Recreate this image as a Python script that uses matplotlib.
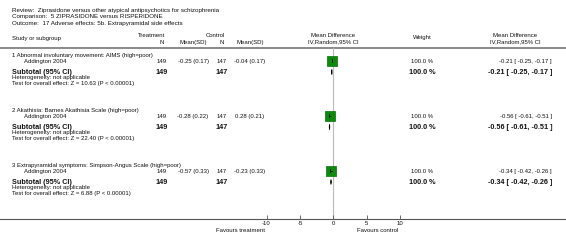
import matplotlib
matplotlib.use('Agg')
import matplotlib.pyplot as plt
from matplotlib.patches import Polygon

plt.rcParams['font.family'] = ['Liberation Sans', 'DejaVu Sans']

# data
review = "Review:  Ziprasidone versus other atypical antipsychotics for schizophrenia"
comparison = "Comparison:  5 ZIPRASIDONE versus RISPERIDONE"
outcome = "Outcome:  17 Adverse effects: 5b. Extrapyramidal side effects"

groups = ["1 Abnormal involuntary movement: AIMS (high=poor)",
          "2 Akathisia: Barnes Akathisia Scale (high=poor)",
          "3 Extrapyramidal symptoms: Simpson-Angus Scale (high=poor)"]
study = "Addington 2004"
trt_n = [149, 149, 149]
trt_mean = [-0.25, -0.28, -0.57]
trt_sd = [0.17, 0.22, 0.33]
ctl_n = [147, 147, 147]
ctl_mean = [-0.04, 0.28, -0.23]
ctl_sd = [0.17, 0.21, 0.33]
md = [-0.21, -0.56, -0.34]
md_lo = [-0.25, -0.61, -0.42]
md_hi = [-0.17, -0.51, -0.26]
weight = [100.0, 100.0, 100.0]
z_val = [10.63, 22.40, 6.88]
xticks = [-10, -5, 0, 5, 10]

W, H = 566, 249
fig = plt.figure(figsize=(W / 100, H / 100), dpi=100)
ax = fig.add_axes([0, 0, 1, 1])
ax.set_xlim(0, W)
ax.set_ylim(H, 0)
ax.axis('off')

fs = 4.3
fsb = 5.2
col = '#111111'

ax.text(12, 10, review, fontsize=4.5, va='center', color=col)
ax.text(12, 16.5, comparison, fontsize=4.5, va='center', color=col)
ax.text(12, 23, outcome, fontsize=4.5, va='center', color=col)

# header
x_tn, x_tm, x_cn, x_cm = 162, 193, 222, 250
x_w, x_ci = 422, 552
ax.text(12, 38, "Study or subgroup", fontsize=fs, va='center', color=col)
ax.text(x_tn + 3, 35, "Treatment", fontsize=fs, va='center', ha='right', color=col)
ax.text(x_tn, 42, "N", fontsize=fs, va='center', ha='center', color=col)
ax.text(x_tm, 42, "Mean(SD)", fontsize=fs, va='center', ha='center', color=col)
ax.text(x_cn + 3, 35, "Control", fontsize=fs, va='center', ha='right', color=col)
ax.text(x_cn, 42, "N", fontsize=fs, va='center', ha='center', color=col)
ax.text(x_cm, 42, "Mean(SD)", fontsize=fs, va='center', ha='center', color=col)
ax.text(333, 35, "Mean Difference", fontsize=fs, va='center', ha='center', color=col)
ax.text(333, 42, "IV,Random,95% CI", fontsize=fs, va='center', ha='center', color=col)
ax.text(x_w, 37, "Weight", fontsize=fs, va='center', ha='center', color=col)
ax.text(515, 35, "Mean Difference", fontsize=fs, va='center', ha='center', color=col)
ax.text(515, 42, "IV,Random,95% CI", fontsize=fs, va='center', ha='center', color=col)
ax.plot([0, W], [47.5, 47.5], color='#777777', lw=1.2)
ax.plot([0, W], [219, 219], color='#555555', lw=0.8)

# forest axes: -10..10 maps to px 266.5..400
y_top, y_bot = 48, 219
fx = fig.add_axes([266.5 / W, (H - y_bot) / H, 133.5 / W, (y_bot - y_top) / H])
fx.set_xlim(-10, 10)
fx.set_ylim(y_bot, y_top)
fx.patch.set_visible(False)
for s in fx.spines.values():
    s.set_visible(False)
fx.set_yticks([])
fx.set_xticks(xticks)
fx.set_xticklabels([str(t) for t in xticks])
fx.tick_params(axis='x', direction='in', length=3, width=0.6, color='#555555',
               labelsize=4.3, pad=1.5, labelcolor=col)
fx.axvline(0, color='#bbbbbb', lw=0.8, zorder=0)

g0 = 55
step = 55
for i in range(3):
    yg = g0 + i * step
    ys, ysub, yhet, ytest = yg + 6, yg + 17, yg + 22.5, yg + 28
    ax.text(12, yg, groups[i], fontsize=fs, va='center', color=col)
    ax.text(24, ys, study, fontsize=fs, va='center', color=col)
    ax.text(x_tn, ys, str(trt_n[i]), fontsize=fs, va='center', ha='center', color=col)
    ax.text(x_tm, ys, f"{trt_mean[i]:.2f} ({trt_sd[i]:.2f})", fontsize=fs, va='center', ha='center', color=col)
    ax.text(x_cn, ys, str(ctl_n[i]), fontsize=fs, va='center', ha='center', color=col)
    ax.text(x_cm, ys, f"{ctl_mean[i]:.2f} ({ctl_sd[i]:.2f})", fontsize=fs, va='center', ha='center', color=col)
    ax.text(x_w, ys, f"{weight[i]:.1f} %", fontsize=fs, va='center', ha='center', color=col)
    ax.text(x_ci, ys, f"{md[i]:.2f} [ {md_lo[i]:.2f}, {md_hi[i]:.2f} ]", fontsize=fs, va='center', ha='right', color=col)

    ax.text(12, ysub, "Subtotal (95% CI)", fontsize=fsb, va='center', fontweight='bold', color=col)
    ax.text(x_tn, ysub, str(trt_n[i]), fontsize=fsb, va='center', ha='center', fontweight='bold', color=col)
    ax.text(x_cn, ysub, str(ctl_n[i]), fontsize=fsb, va='center', ha='center', fontweight='bold', color=col)
    ax.text(x_w, ysub, f"{weight[i]:.1f} %", fontsize=fsb, va='center', ha='center', fontweight='bold', color=col)
    ax.text(x_ci, ysub, f"{md[i]:.2f} [ {md_lo[i]:.2f}, {md_hi[i]:.2f} ]", fontsize=fsb, va='center', ha='right', fontweight='bold', color=col)
    ax.text(12, yhet, "Heterogeneity: not applicable", fontsize=fs, va='center', color=col)
    ax.text(12, ytest, f"Test for overall effect: Z = {z_val[i]:.2f} (P < 0.00001)", fontsize=fs, va='center', color=col)

    # study square and CI
    fx.scatter([md[i]], [ys], marker='s', s=55, color='#0c8a0c', edgecolors='#0a6e0a', linewidths=0.5, zorder=3)
    fx.plot([md_lo[i], md_hi[i]], [ys, ys], color='black', lw=0.6, zorder=4)
    fx.plot([md_lo[i], md_lo[i]], [ys - 1.5, ys + 1.5], color='black', lw=0.6, zorder=4)
    # subtotal diamond
    fx.add_patch(Polygon([[md_lo[i], ysub], [md[i], ysub - 2.5], [md_hi[i], ysub], [md[i], ysub + 2.5]],
                         closed=True, facecolor='black', edgecolor='black', lw=0.5, zorder=4))

ax.text(265, 230, "Favours treatment", fontsize=fs, va='center', ha='right', color=col)
ax.text(357, 230, "Favours control", fontsize=fs, va='center', ha='left', color=col)

fig.savefig('out.png', dpi=100)
